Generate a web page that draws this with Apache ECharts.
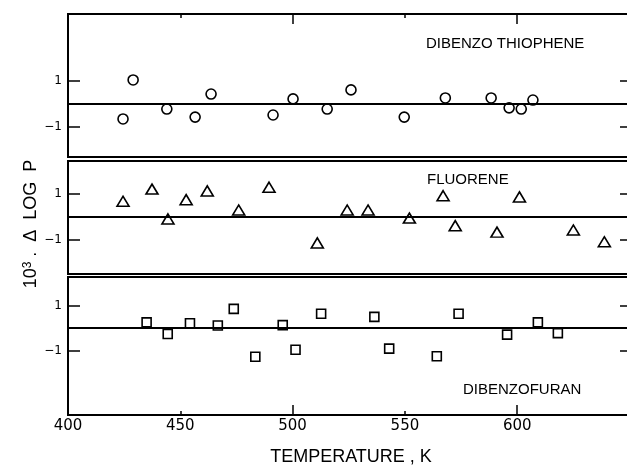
<!DOCTYPE html>
<html>
<head>
<meta charset="utf-8">
<script src="https://cdn.jsdelivr.net/npm/echarts@6/dist/echarts.min.js"></script>
<style>
html, body { margin: 0; padding: 0; background: #fff; overflow: hidden; }
/* the figure is cut off on the right, so the drawing is a bit wider than the window */
#chart { width: 640px; height: 467px; }
</style>
</head>
<body>
<div id="chart"></div>
<script>
// temperatures (K) and 10^3 * delta log P
var dbtT = [424.5, 429, 444, 456.6, 463.7, 491.3, 500.2, 515.4, 526, 549.7, 568, 588.4, 596.4, 601.8, 607];
var dbtV = [-0.65, 1.04, -0.22, -0.57, 0.43, -0.48, 0.22, -0.22, 0.61, -0.57, 0.26, 0.26, -0.17, -0.22, 0.17];

var flT = [424.5, 437.4, 444.5, 452.6, 462, 476, 489.5, 511, 524.3, 533.6, 552, 567, 572.4, 591, 601, 625, 638.8];
var flV = [0.67, 1.2, -0.1, 0.74, 1.12, 0.29, 1.28, -1.14, 0.29, 0.29, -0.06, 0.91, -0.39, -0.67, 0.86, -0.58, -1.09];

var dbfT = [435, 444.4, 454.3, 466.7, 473.8, 483.4, 495.6, 501.3, 512.7, 536.4, 543, 564.2, 573.9, 595.5, 609.2, 618.1];
var dbfV = [0.26, -0.26, 0.22, 0.12, 0.87, -1.28, 0.14, -0.97, 0.65, 0.51, -0.92, -1.26, 0.65, -0.29, 0.26, -0.22];

var xTicks = [400, 450, 500, 550, 600];
var yTicks = [-1, 1];
var panelNames = ['DIBENZO THIOPHENE', 'FLUORENE', 'DIBENZOFURAN'];

var numFont = 'DejaVu Sans';
var txtFont = 'Liberation Sans';

function pairs(xs, ys) {
	var out = [];
	for (var i = 0; i < xs.length; i++) {
		out.push([xs[i], ys[i]]);
	}
	return out;
}

// ticks: long ones every 100, short minor ones at the 50s
function xAxisFor(grid, pos, ticks, labels) {
	return {
		type: 'value', gridIndex: grid, position: pos,
		min: 400, max: 652, interval: 100,
		axisLine: { show: false, onZero: false },
		axisTick: { show: ticks, inside: true, length: 10, lineStyle: { color: '#000', width: 1.5 } },
		minorTick: { show: ticks, splitNumber: 2, length: 4, lineStyle: { color: '#000', width: 1.5 } },
		splitLine: { show: false },
		minorSplitLine: { show: false },
		axisLabel: {
			show: labels, customValues: xTicks, margin: 4,
			color: '#000', fontFamily: numFont, fontSize: 15
		},
		name: labels ? 'TEMPERATURE , K' : '',
		nameLocation: 'middle', nameGap: 33,
		nameTextStyle: { color: '#000', fontFamily: txtFont, fontSize: 18 }
	};
}

function yAxisFor(grid, min, max, right) {
	return {
		type: 'value', gridIndex: grid, position: right ? 'right' : 'left',
		min: min, max: max,
		axisLine: { show: !right, onZero: false, lineStyle: { color: '#000', width: 2 } },
		axisTick: { show: true, inside: true, length: right ? 14 : 12, customValues: yTicks, lineStyle: { color: '#000', width: 1.5 } },
		splitLine: { show: false },
		axisLabel: {
			show: !right, customValues: yTicks, margin: 6,
			color: '#000', fontFamily: numFont, fontSize: 12,
			formatter: function(v) { return v < 0 ? '\u2212' + Math.abs(v) : String(v); }
		}
	};
}

function zeroLine() {
	return {
		silent: true, symbol: ['none', 'none'], animation: false,
		label: { show: false },
		lineStyle: { color: '#000', width: 2, type: 'solid' },
		emphasis: { disabled: true },
		data: [{ yAxis: 0 }]
	};
}

function scatter(idx, data, symbol, size) {
	return {
		type: 'scatter', xAxisIndex: idx, yAxisIndex: idx,
		data: data, symbol: symbol, symbolSize: size,
		itemStyle: { color: '#fff', borderColor: '#000', borderWidth: 1.6, opacity: 1 },
		markLine: zeroLine(), z: 3
	};
}

function gridAt(top, height) {
	return {
		left: 68, width: 566, top: top, height: height,
		show: true, borderColor: '#000', borderWidth: 2, backgroundColor: 'transparent'
	};
}

var option = {
	animation: false,
	backgroundColor: '#fff',
	grid: [
		gridAt(14, 143),
		gridAt(161, 113),
		gridAt(277, 143)
	],
	xAxis: [
		xAxisFor(0, 'top', true, false),
		xAxisFor(1, 'bottom', false, false),
		xAxisFor(2, 'bottom', true, true)
	],
	yAxis: [
		yAxisFor(0, -2.3, 3.9, false),
		yAxisFor(1, -2.49, 2.42, false),
		yAxisFor(2, -3.9, 2.3, false),
		yAxisFor(0, -2.3, 3.9, true),
		yAxisFor(1, -2.49, 2.42, true),
		yAxisFor(2, -3.9, 2.3, true)
	],
	graphic: [
		{ type: 'text', left: 426, top: 36, style: { text: panelNames[0], fill: '#000', font: '15px "Liberation Sans"' } },
		{ type: 'text', left: 427, top: 172, style: { text: panelNames[1], fill: '#000', font: '15px "Liberation Sans"' } },
		{ type: 'text', left: 463, top: 382, style: { text: panelNames[2], fill: '#000', font: '15px "Liberation Sans"' } },
		{
			type: 'text', x: 31, y: 224, rotation: Math.PI / 2,
			style: {
				text: '10{s|3} .  \u0394  LOG  P',
				fill: '#000', font: '18px "Liberation Sans"',
				align: 'center', verticalAlign: 'middle',
				rich: { s: { fontSize: 12, fontFamily: 'Liberation Sans', verticalAlign: 'top', lineHeight: 12, padding: [0, 0, 6, 0] } }
			}
		}
	],
	series: [
		scatter(0, pairs(dbtT, dbtV), 'circle', 10),
		scatter(1, pairs(flT, flV), 'triangle', [12, 10]),
		scatter(2, pairs(dbfT, dbfV), 'rect', 9)
	]
};

var chart = echarts.init(document.getElementById('chart'));
chart.setOption(option);
</script>
</body>
</html>
